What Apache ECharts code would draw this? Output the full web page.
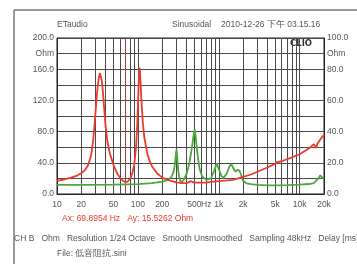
<!DOCTYPE html>
<html>
<head>
<meta charset="utf-8">
<script src="https://cdn.jsdelivr.net/npm/echarts@6/dist/echarts.min.js"></script>
<style>
  html, body { margin: 0; padding: 0; background: #fff; }
  #chart { width: 357px; height: 264px; }
</style>
</head>
<body>
<div id="chart"></div>
<script>
  // red curve (left axis, Ohm)
  var redFreq = [10, 12, 15, 18, 20, 22, 24, 26, 27, 28, 29, 30, 31, 32, 33, 34, 34.5, 35, 36, 37, 38, 39, 40, 42, 45, 50, 55, 60, 65, 70, 75, 80, 85, 90, 95, 98, 100, 102, 104, 105, 106, 108, 110, 115, 120, 130, 140, 150, 175, 200, 250, 300, 320, 330, 340, 400, 450, 470, 500, 600, 700, 800, 1000, 1500, 2000, 2500, 3000, 4000, 5000, 5300, 5500, 6000, 8000, 10000, 12000, 14000, 15000, 15500, 16000, 16500, 18000, 20000];
  var redOhm = [17, 18.5, 21, 24, 27, 30, 36, 47, 56, 69, 86, 106, 125, 140, 150, 155, 156, 154, 144, 130, 115, 99, 86, 67, 52, 37, 27, 21, 17, 15.5, 16, 19.5, 26, 37, 60, 86, 112, 140, 158, 162, 158, 142, 124, 92, 73, 53, 42, 35, 26, 21, 17, 15, 14.5, 16, 14, 14, 16.5, 18, 14.5, 14.5, 14.5, 15.5, 16.5, 18, 22, 25, 28.5, 34, 39, 41, 40, 42, 47, 51, 56, 61, 64, 65, 59, 64, 70, 76];

  // green curve (right axis, Ohm)
  var greenFreq = [10, 20, 50, 100, 150, 200, 240, 260, 275, 285, 295, 300, 305, 315, 330, 345, 370, 400, 430, 460, 490, 505, 520, 550, 580, 620, 700, 800, 880, 944, 1000, 1080, 1150, 1250, 1350, 1425, 1500, 1600, 1700, 1800, 1900, 2000, 2200, 2500, 3000, 4000, 5000, 7000, 10000, 13000, 15000, 17000, 18000, 19000, 20000];
  var greenOhm = [5.8, 5.9, 6.0, 6.3, 7, 8, 9.3, 11, 14, 18, 25, 28.5, 25, 15, 9, 7.5, 9, 13, 19, 28, 38, 41.5, 36, 24, 16, 11.5, 9, 10, 15, 19.7, 16, 11.5, 10.5, 13, 17.5, 19.3, 17, 14.3, 15.4, 15, 12, 8.5, 6.8, 6.3, 5.9, 5.5, 5.5, 5.7, 6.0, 6.4, 7, 10, 12, 10.5, 10];

  // x axis grid lines and labels
  var gridFreq = [10, 20, 30, 40, 50, 60, 70, 80, 90, 100, 200, 300, 400, 500, 600, 700, 800, 900, 1000, 2000, 3000, 4000, 5000, 6000, 7000, 8000, 9000, 10000, 20000];
  var labelFreq = [10, 20, 50, 100, 200, 500, 700, 1000, 2000, 5000, 10000, 20000];
  var labelText = ['10', '20', '50', '100', '200', '500', 'Hz', '1k', '2k', '5k', '10k', '20k'];

  var cursorFreq = 69.8954;

  function lg(f) { return Math.log10(f); }
  function pts(fs, vs) {
    return fs.map(function (f, i) { return [lg(f), vs[i]]; });
  }

  var txtColor = '#555';
  var font = 'Liberation Sans, Arial, sans-serif';

  var chart = echarts.init(document.getElementById('chart'), null, { renderer: 'canvas' });
  var option = {
    animation: false,
    backgroundColor: '#fff',
    grid: {
      left: 57, right: 33, top: 38, bottom: 70,
      show: true, borderColor: '#222', borderWidth: 1
    },
    xAxis: {
      type: 'value',
      min: lg(10),
      max: lg(20000),
      axisLine: { show: true, lineStyle: { color: '#222' } },
      axisTick: { show: false, customValues: gridFreq.map(lg) },
      splitLine: { show: true, lineStyle: { color: '#4a4a4a', width: 1 } },
      axisLabel: {
        customValues: labelFreq.map(lg),
        color: txtColor, fontSize: 8.5, fontFamily: font, margin: 6,
        formatter: function (v) {
          var f = Math.round(Math.pow(10, v));
          var i = labelFreq.indexOf(f);
          return i >= 0 ? labelText[i] : '';
        }
      }
    },
    yAxis: [{
      type: 'value', min: 0, max: 200, interval: 20,
      axisLine: { show: true, lineStyle: { color: '#222' } },
      axisTick: { show: false },
      splitLine: { show: true, lineStyle: { color: '#4a4a4a', width: 1 } },
      axisLabel: {
        color: txtColor, fontSize: 8.5, fontFamily: font, margin: 3,
        formatter: function (v) {
          if (v === 180) return 'Ohm';
          return v % 40 === 0 ? v.toFixed(1) : '';
        }
      }
    }, {
      type: 'value', min: 0, max: 100, interval: 10, position: 'right',
      axisLine: { show: true, lineStyle: { color: '#222' } },
      axisTick: { show: false },
      splitLine: { show: false },
      axisLabel: {
        color: txtColor, fontSize: 8.5, fontFamily: font, margin: 3,
        formatter: function (v) {
          if (v === 90) return 'Ohm';
          return v % 20 === 0 ? v.toFixed(1) : '';
        }
      }
    }],
    series: [{
      type: 'line',
      yAxisIndex: 1,
      data: pts(greenFreq, greenOhm),
      showSymbol: false,
      lineStyle: { color: '#4aa83c', width: 1.8 },
      z: 3
    }, {
      type: 'line',
      yAxisIndex: 0,
      data: pts(redFreq, redOhm),
      showSymbol: false,
      lineStyle: { color: '#ee3a2c', width: 1.8 },
      z: 4,
      markLine: {
        silent: true,
        symbol: ['none', 'none'],
        label: { show: false },
        lineStyle: { color: '#ee3a2c', type: 'dotted', width: 1 },
        data: [{ xAxis: lg(cursorFreq) }]
      }
    }],
    graphic: [
      { type: 'line', shape: { x1: 14, y1: 10, x2: 357, y2: 10 }, style: { stroke: '#777', lineWidth: 1.5 } },
      { type: 'line', shape: { x1: 14, y1: 10, x2: 14, y2: 264 }, style: { stroke: '#777', lineWidth: 1.5 } },
      { type: 'text', left: 57, top: 20, style: { text: 'ETaudio', fill: txtColor, font: '8.5px ' + font } },
      { type: 'text', left: 172, top: 20, style: { text: 'Sinusoidal', fill: txtColor, font: '8.5px ' + font } },
      { type: 'text', left: 221, top: 20, style: { text: '2010-12-26 下午 03.15.16', fill: txtColor, font: '8.5px ' + font } },
      { type: 'text', left: 290, top: 39, style: { text: 'CLIO', fill: '#333', font: 'bold 8.5px DejaVu Sans, sans-serif' } },
      { type: 'text', left: 62, top: 214, style: { text: 'Ax: 69.8954 Hz   Ay: 15.5262 Ohm', fill: '#e8382a', font: '8.5px ' + font } },
      { type: 'text', left: 14, top: 234, style: { text: 'CH B   Ohm   Resolution 1/24 Octave   Smooth Unsmoothed   Sampling 48kHz   Delay [ms]', fill: txtColor, font: '8.5px ' + font } },
      { type: 'text', left: 57, top: 249, style: { text: 'File: 低音阻抗.sini', fill: txtColor, font: '8.5px ' + font } }
    ]
  };
  chart.setOption(option);
</script>
</body>
</html>
